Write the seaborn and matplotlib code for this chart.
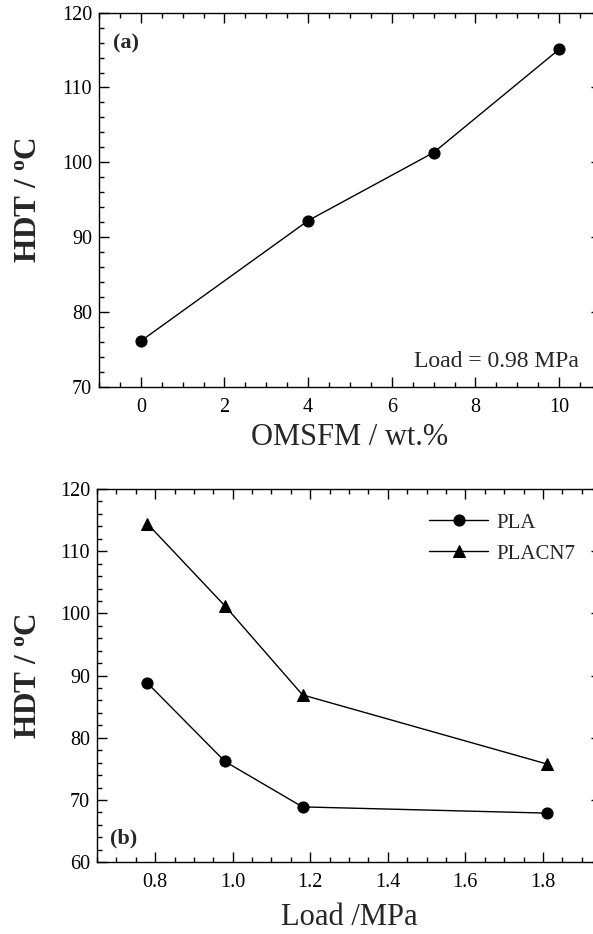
import numpy as np
import pandas as pd
import matplotlib
matplotlib.use("Agg")
import matplotlib.pyplot as plt
from matplotlib.ticker import MultipleLocator, FormatStrFormatter
import seaborn as sns

# panel (a): HDT vs OMSFM content (load 0.98 MPa)
omsfm_wt = [0, 4, 7, 10]
hdt_a = [76.1, 92.2, 101.3, 115.1]

# panel (b): HDT vs load
load_mpa = [0.78, 0.98, 1.18, 1.81]
hdt_pla = [88.8, 76.2, 68.9, 67.9]
hdt_placn7 = [114.4, 101.2, 86.9, 75.8]

sns.set_theme(style="ticks")
plt.rcParams["font.family"] = ["Liberation Serif", "DejaVu Serif"]
plt.rcParams.update({
    "mathtext.fontset": "custom",
    "mathtext.rm": "Liberation Serif",
    "mathtext.bf": "Liberation Serif:bold",
    "axes.edgecolor": "black",
    "axes.linewidth": 1.0,
    "xtick.color": "black",
    "ytick.color": "black",
    "xtick.direction": "in",
    "ytick.direction": "in",
    "xtick.top": True,
    "ytick.right": True,
    "xtick.major.size": 7,
    "ytick.major.size": 7,
    "xtick.minor.size": 3.5,
    "ytick.minor.size": 3.5,
    "xtick.major.width": 1.0,
    "ytick.major.width": 1.0,
    "xtick.minor.width": 1.0,
    "ytick.minor.width": 1.0,
    "xtick.labelsize": 14.5,
    "ytick.labelsize": 14.5,
})

fig = plt.figure(figsize=(5.93, 9.34), dpi=100)
ax1 = fig.add_axes([0.1669, 0.586, 0.8465, 0.4004])
ax2 = fig.add_axes([0.1636, 0.0768, 0.850, 0.3997])

# --- (a) ---
df_a = pd.DataFrame({"wt": omsfm_wt, "hdt": hdt_a})
sns.lineplot(data=df_a, x="wt", y="hdt", ax=ax1, color="black", marker="o",
             markersize=8, markeredgecolor="black", linewidth=1.0, estimator=None)
ax1.set_xlim(-1, 11)
ax1.set_ylim(70, 120)
ax1.xaxis.set_major_locator(MultipleLocator(2))
ax1.xaxis.set_minor_locator(MultipleLocator(0.5))
ax1.yaxis.set_major_locator(MultipleLocator(10))
ax1.yaxis.set_minor_locator(MultipleLocator(2))
ax1.tick_params(axis="x", which="both", pad=8)
ax1.tick_params(axis="y", which="both", pad=5)
ax1.set_xlabel("OMSFM / wt.%", fontsize=22)
ax1.set_ylabel(r"HDT / $\mathregular{^o}$C", fontsize=22.5, fontweight="bold")
ax1.xaxis.set_label_coords(0.5, -0.097)
ax1.yaxis.set_label_coords(-0.112, 0.5)
ax1.text(0.028, 0.919, "(a)", transform=ax1.transAxes, fontsize=16,
         fontweight="bold", ha="left", va="center")
ax1.text(0.956, 0.053, "Load = 0.98 MPa", transform=ax1.transAxes,
         fontsize=17, ha="right", va="baseline")

# --- (b) ---
df_b = pd.DataFrame({
    "load": load_mpa * 2,
    "hdt": hdt_pla + hdt_placn7,
    "sample": ["PLA"] * len(load_mpa) + ["PLACN7"] * len(load_mpa),
})
sns.lineplot(data=df_b[df_b["sample"] == "PLA"], x="load", y="hdt", ax=ax2,
             color="black", marker="o", markersize=8, markeredgecolor="black",
             linewidth=1.0, estimator=None, label="PLA")
sns.lineplot(data=df_b[df_b["sample"] == "PLACN7"], x="load", y="hdt", ax=ax2,
             color="black", marker="^", markersize=8, markeredgecolor="black",
             linewidth=1.0, estimator=None, label="PLACN7")
ax2.set_xlim(0.65, 1.95)
ax2.set_ylim(60, 120)
ax2.xaxis.set_major_locator(MultipleLocator(0.2))
ax2.xaxis.set_minor_locator(MultipleLocator(0.05))
ax2.yaxis.set_major_locator(MultipleLocator(10))
ax2.yaxis.set_minor_locator(MultipleLocator(2))
ax2.xaxis.set_major_formatter(FormatStrFormatter("%.1f"))
ax2.tick_params(axis="x", which="both", pad=8)
ax2.tick_params(axis="y", which="both", pad=5)
ax2.set_xlabel("Load /MPa", fontsize=22)
ax2.set_ylabel(r"HDT / $\mathregular{^o}$C", fontsize=22.5, fontweight="bold")
ax2.xaxis.set_label_coords(0.5, -0.108)
ax2.yaxis.set_label_coords(-0.108, 0.5)
ax2.text(0.026, 0.065, "(b)", transform=ax2.transAxes, fontsize=16,
         fontweight="bold", ha="left", va="center")
ax2.legend(loc="upper right", bbox_to_anchor=(0.965, 0.958), frameon=False,
           fontsize=15, handlelength=2.8, handletextpad=0.4, labelspacing=0.55,
           borderaxespad=0.0)

fig.savefig("out.png", dpi=100)
